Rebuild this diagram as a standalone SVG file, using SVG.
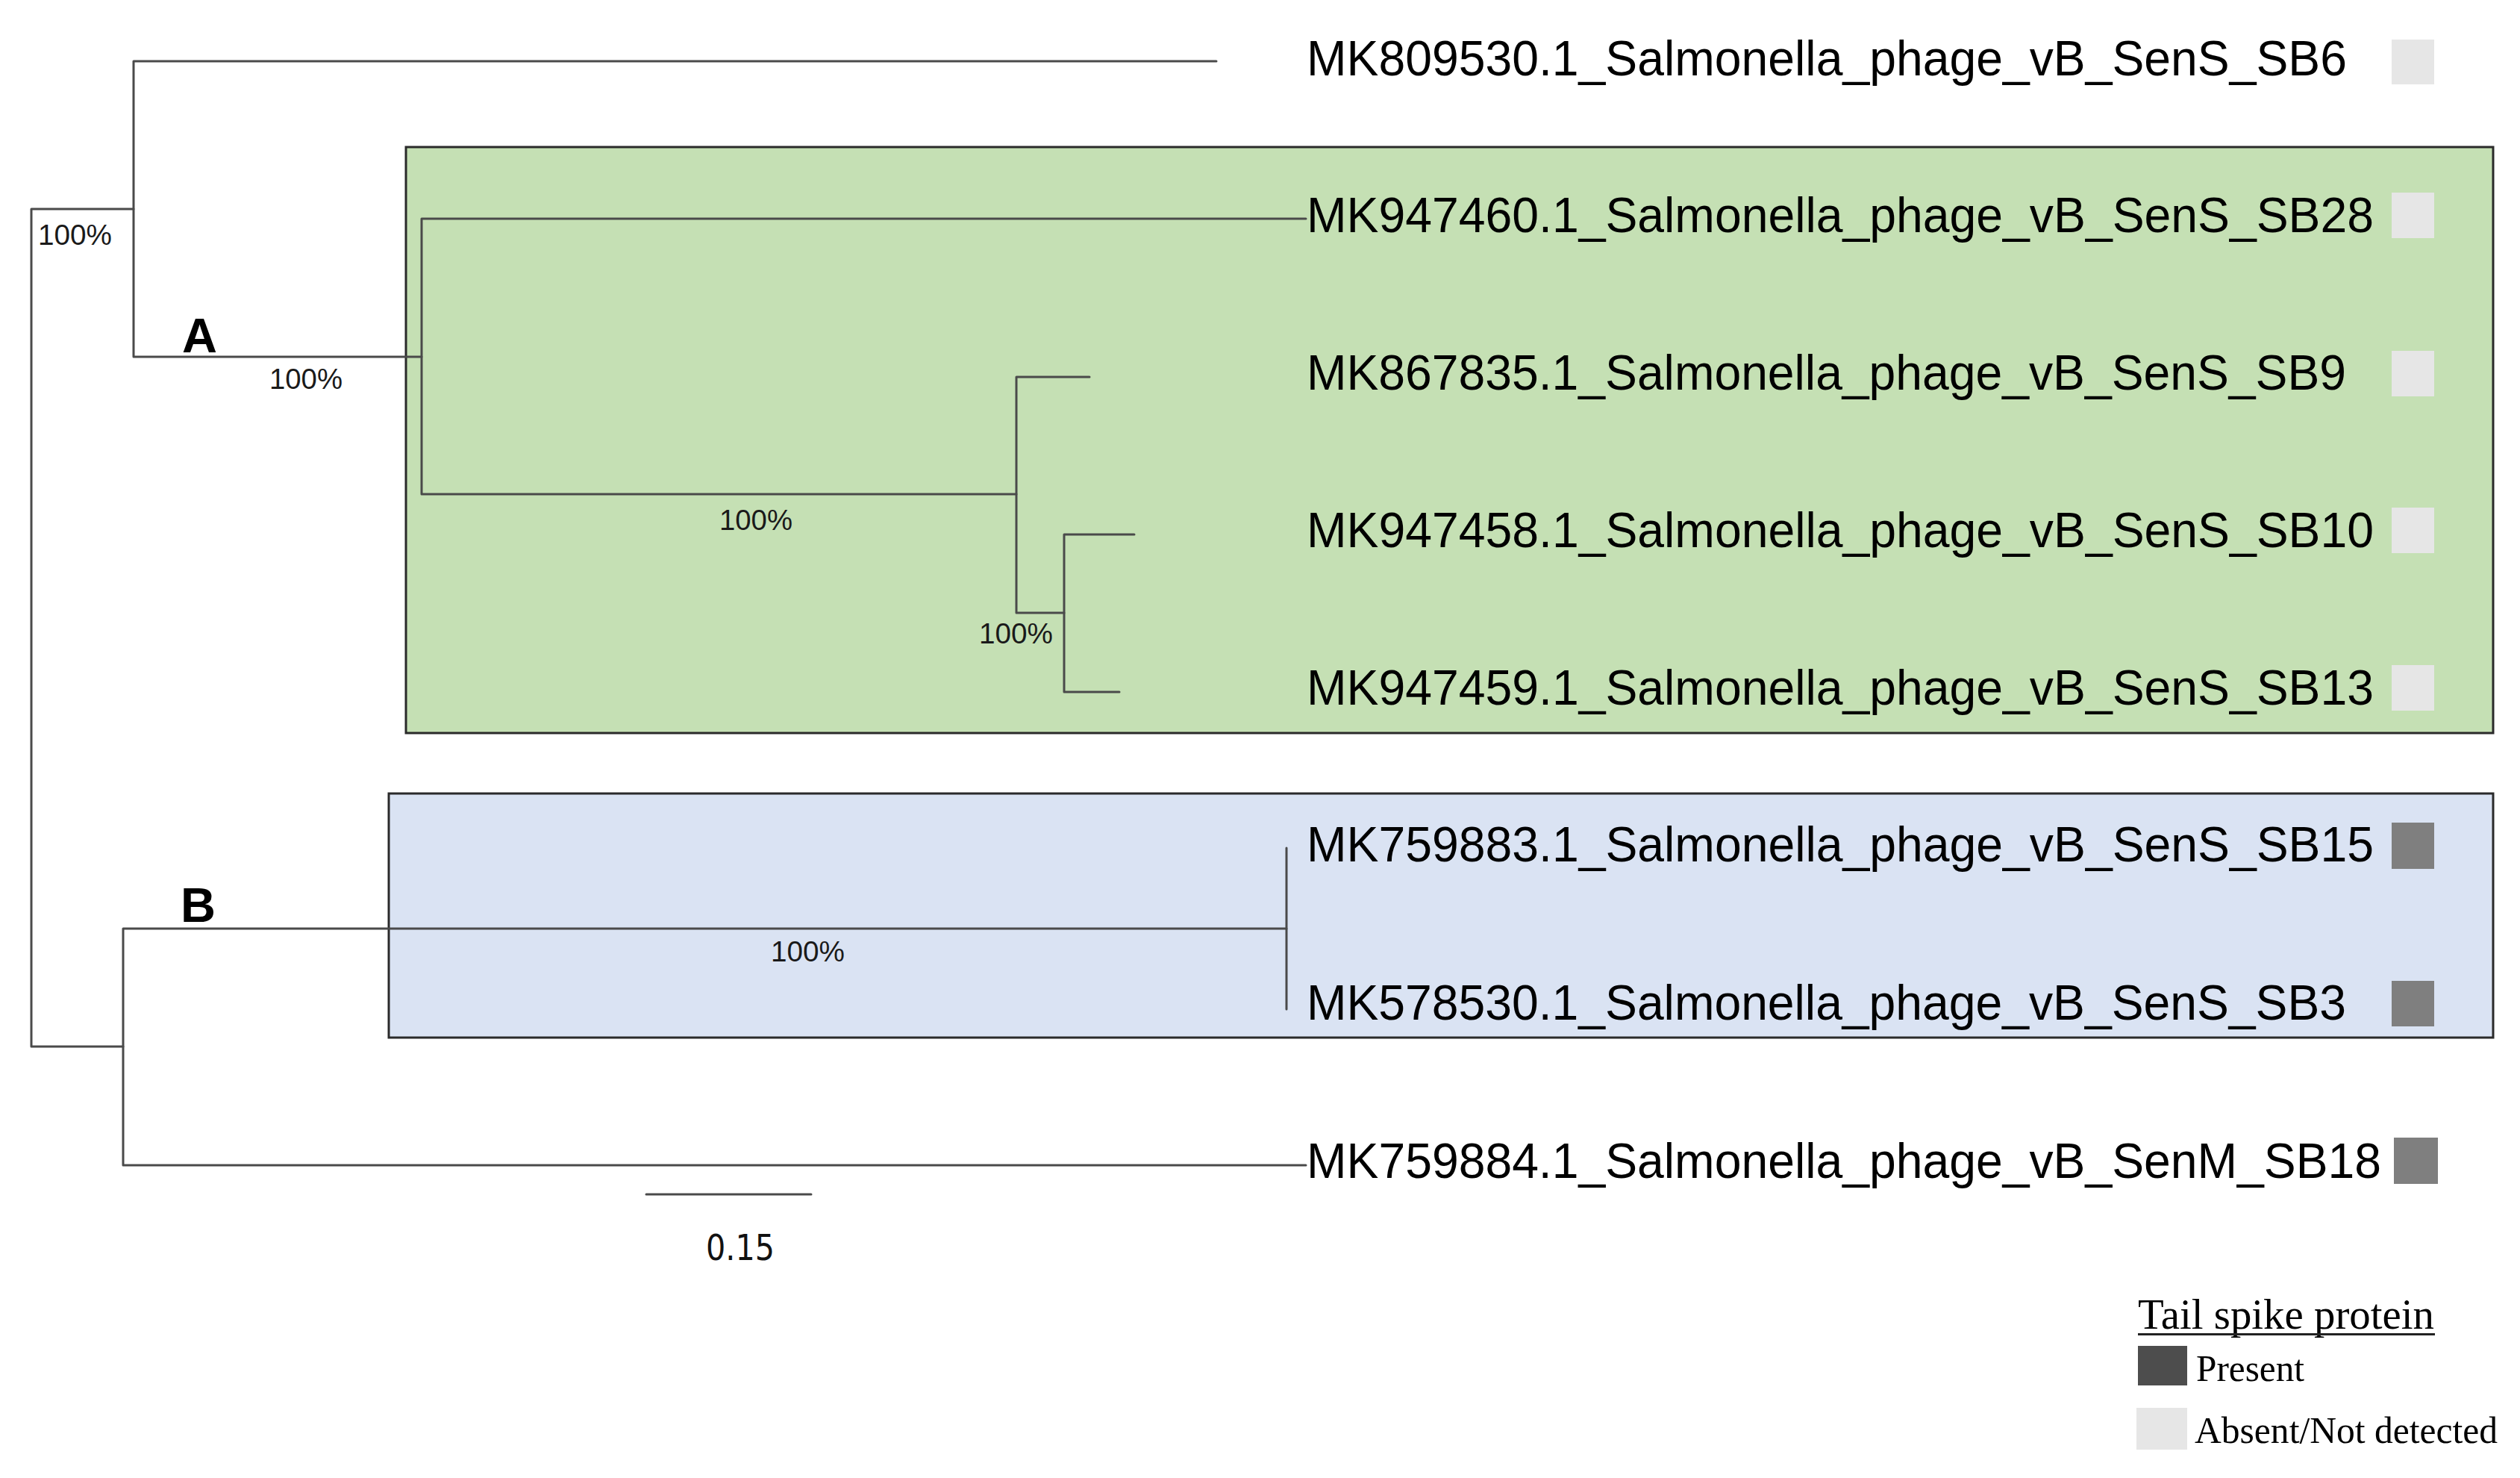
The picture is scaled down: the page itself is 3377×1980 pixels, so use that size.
<svg xmlns="http://www.w3.org/2000/svg" width="3377" height="1980" viewBox="0 0 3377 1980">
<style>
.br{stroke:#4a4a4a;stroke-width:3;fill:none;stroke-linecap:round}
.box{stroke:#2a2a2a;stroke-width:3}
.lbl{font-family:"Liberation Sans",Arial,sans-serif;font-size:66px;fill:#000}
.bs{font-family:"Liberation Sans",Arial,sans-serif;font-size:39px;fill:#1a1a1a}
.cl{font-family:"Liberation Sans",Arial,sans-serif;font-size:65px;font-weight:bold;fill:#000}
.leg{font-family:"Liberation Serif","Times New Roman",serif;fill:#000}
.abs{fill:#e6e6e6}
.pre{fill:#7f7f7f}
</style>
<rect width="3377" height="1980" fill="#fff"/>
<g id="cladeA-box"><rect class="box" x="544" y="197" width="2797" height="785" fill="#c5e0b4"/></g>
<g id="cladeB-box"><rect class="box" x="521" y="1063" width="2820" height="327" fill="#dae3f3"/></g>
<g id="connectors">
<path class="br" d="M42 280V1402M42 280H179M42 1402H165"/>
<path class="br" d="M179 82V478M179 82H1630M179 478H565"/>
<path class="br" d="M565 293V662M565 293H1750M565 662H1362"/>
<path class="br" d="M1362 505V821M1362 505H1460M1362 821H1426"/>
<path class="br" d="M1426 716V927M1426 716H1520M1426 927H1500"/>
<path class="br" d="M165 1244V1561M165 1244H1724M165 1561H1750"/>
<path class="br" d="M1724 1136V1352"/>
</g>
<g id="bootstrap">
<text class="bs" x="51" y="328" textLength="99" lengthAdjust="spacingAndGlyphs">100%</text>
<text class="bs" x="361" y="521" textLength="98" lengthAdjust="spacingAndGlyphs">100%</text>
<text class="bs" x="964" y="710" textLength="98" lengthAdjust="spacingAndGlyphs">100%</text>
<text class="bs" x="1312" y="862" textLength="99" lengthAdjust="spacingAndGlyphs">100%</text>
<text class="bs" x="1033" y="1288" textLength="99" lengthAdjust="spacingAndGlyphs">100%</text>
</g>
<g id="clade-labels">
<text class="cl" x="244" y="472">A</text>
<text class="cl" x="242" y="1235">B</text>
</g>
<g id="leaf-SB6"><text class="lbl" x="1751" y="101" textLength="1394" lengthAdjust="spacingAndGlyphs">MK809530.1_Salmonella_phage_vB_SenS_SB6</text><rect class="abs" x="3205" y="53" width="57" height="60"/></g>
<g id="leaf-SB28"><text class="lbl" x="1751" y="311" textLength="1430" lengthAdjust="spacingAndGlyphs">MK947460.1_Salmonella_phage_vB_SenS_SB28</text><rect class="abs" x="3205" y="258" width="57" height="61"/></g>
<g id="leaf-SB9"><text class="lbl" x="1751" y="522" textLength="1393" lengthAdjust="spacingAndGlyphs">MK867835.1_Salmonella_phage_vB_SenS_SB9</text><rect class="abs" x="3205" y="470" width="57" height="61"/></g>
<g id="leaf-SB10"><text class="lbl" x="1751" y="733" textLength="1430" lengthAdjust="spacingAndGlyphs">MK947458.1_Salmonella_phage_vB_SenS_SB10</text><rect class="abs" x="3205" y="680" width="57" height="61"/></g>
<g id="leaf-SB13"><text class="lbl" x="1751" y="944" textLength="1430" lengthAdjust="spacingAndGlyphs">MK947459.1_Salmonella_phage_vB_SenS_SB13</text><rect class="abs" x="3205" y="891" width="57" height="61"/></g>
<g id="leaf-SB15"><text class="lbl" x="1751" y="1154" textLength="1430" lengthAdjust="spacingAndGlyphs">MK759883.1_Salmonella_phage_vB_SenS_SB15</text><rect class="pre" x="3205" y="1102" width="57" height="62"/></g>
<g id="leaf-SB3"><text class="lbl" x="1751" y="1366" textLength="1393" lengthAdjust="spacingAndGlyphs">MK578530.1_Salmonella_phage_vB_SenS_SB3</text><rect class="pre" x="3205" y="1314" width="57" height="61"/></g>
<g id="leaf-SB18"><text class="lbl" x="1751" y="1578" textLength="1440" lengthAdjust="spacingAndGlyphs">MK759884.1_Salmonella_phage_vB_SenM_SB18</text><rect class="pre" x="3208" y="1524" width="59" height="62"/></g>
<g id="scale-bar">
<path class="br" d="M866 1600H1087" stroke-linecap="butt"/>
<text x="946" y="1688" font-family="DejaVu Sans,Verdana,sans-serif" font-size="48" fill="#111" textLength="92" lengthAdjust="spacingAndGlyphs">0.15</text>
</g>
<g id="legend">
<text class="leg" x="2865" y="1780" font-size="56" textLength="397" lengthAdjust="spacingAndGlyphs">Tail spike protein</text>
<rect x="2865" y="1786" width="398" height="3" fill="#222"/>
<rect x="2865" y="1803" width="66" height="53" fill="#4d4d4d"/>
<text class="leg" x="2943" y="1850" font-size="50" textLength="145" lengthAdjust="spacingAndGlyphs">Present</text>
<rect class="abs" x="2863" y="1886" width="68" height="56"/>
<text class="leg" x="2941" y="1933" font-size="50" textLength="406" lengthAdjust="spacingAndGlyphs">Absent/Not detected</text>
</g>
</svg>
